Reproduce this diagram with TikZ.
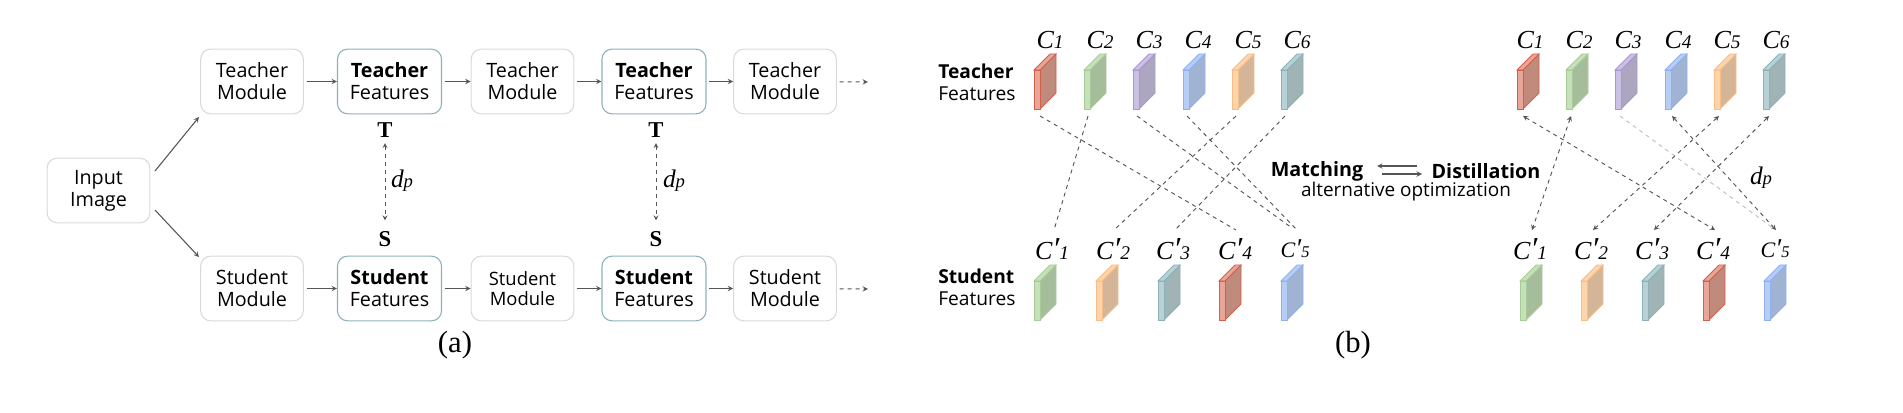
\documentclass[tikz,border=0pt]{standalone}
\usepackage{fontspec}
\setmainfont{Open Sans}
\newfontfamily\tms{Liberation Serif}
\usepackage{tikz}
\usetikzlibrary{positioning}

\definecolor{hongq}{HTML}{E9A597}\definecolor{hongb}{HTML}{D2604A}\definecolor{hongc}{HTML}{C08A7C}
\definecolor{lvq}{HTML}{C6E0B9}\definecolor{lvb}{HTML}{A8CC98}\definecolor{lvc}{HTML}{A6BD9B}
\definecolor{ziq}{HTML}{CAC1E4}\definecolor{zib}{HTML}{A797CE}\definecolor{zic}{HTML}{ACA6C0}
\definecolor{lanq}{HTML}{B6CDF6}\definecolor{lanb}{HTML}{8FB1EE}\definecolor{lanc}{HTML}{A1B3D3}
\definecolor{chengq}{HTML}{FDD5AB}\definecolor{chengb}{HTML}{F8BE8A}\definecolor{chengc}{HTML}{D4B598}
\definecolor{qingq}{HTML}{B7D2D6}\definecolor{qingb}{HTML}{8DB1B7}\definecolor{qingc}{HTML}{A0B3B5}
\definecolor{xianse}{HTML}{555555}

% one feature block: name, left, top, colour
\newcommand{\kuai}[4]{
\coordinate(#1)at(#2,#3);
\filldraw[draw=#4b,fill=#4c,line width=.6pt] (#2+6,#3) -- (#2+22,#3-16) -- (#2+22,#3+23) -- (#2+6,#3+39) -- cycle;
\filldraw[draw=#4b,fill=#4q,line width=.6pt] (#2,#3) -- (#2+16,#3-16) -- (#2+22,#3-16) -- (#2+6,#3) -- cycle;
\filldraw[draw=#4b,fill=#4q,line width=.6pt] (#2,#3) rectangle (#2+6,#3+39);
}
\newcommand{\cshang}[1]{{\tms\itshape\fontsize{19.5}{19.5}\selectfont C\fontsize{14.5}{14.5}\selectfont #1}}
\newcommand{\cxia}[1]{{\tms\itshape\fontsize{19.5}{19.5}\selectfont C\fontsize{24}{24}\selectfont ′\fontsize{14.5}{14.5}\selectfont #1}}
\newcommand{\cdp}{{\tms\itshape\fontsize{19}{19}\selectfont d\fontsize{14}{14}\selectfont p}}

\begin{document}
\begin{tikzpicture}[x=0.75pt,y=-0.75pt]
\tikzset{basic/.style={draw,rounded corners=7.5pt,align=center,inner sep=0pt,font=\fontsize{14.8}{16.5}\selectfont}}
\tikzset{mokuai/.style={basic,draw=black!15,line width=.8pt,minimum width=77pt,minimum height=48.5pt}}
\tikzset{tezheng/.style={basic,draw=qingb,line width=.8pt,minimum width=78pt,minimum height=48.5pt}}
\tikzset{biao/.style={anchor=base,inner sep=0pt}}
\tikzset{zi/.style={inner sep=0pt,font=\tms\bfseries\fontsize{17}{17}\selectfont}}
\tikzset{wen/.style={inner sep=0pt,align=left,font=\fontsize{14.4}{16.5}\selectfont}}
\tikzset{jian/.style={draw=xianse,line width=.8pt,->,>=stealth}}
\tikzset{heng/.style={jian,shorten <=2pt}}
\tikzset{xujian/.style={draw=xianse,line width=.7pt,dashed,<->,>=stealth}}
\tikzset{dui/.style={xujian,shorten <=4pt,shorten >=8pt}}
\tikzset{xu/.style={draw=xianse,line width=.7pt,dashed}}
\useasboundingbox (0,0) rectangle (1903,413);

\node[mokuai](in)at(98.5,190.5){Input\\Image};
\node[mokuai](tm1)at(252,81.5){Teacher\\Module};
\node[tezheng](tf1)at(389.5,81.5){\textbf{Teacher}\\Features};
\node[mokuai](tm2)at(522.5,81.5){Teacher\\Module};
\node[tezheng](tf2)at(654,81.5){\textbf{Teacher}\\Features};
\node[mokuai](tm3)at(785,81.5){Teacher\\Module};
\node[mokuai](sm1)at(252,288.5){Student\\Module};
\node[tezheng](sf1)at(389.5,288.5){\textbf{Student}\\Features};
\node[mokuai,font=\fontsize{13.8}{15.5}\selectfont](sm2)at(522.5,288.5){Student\\Module};
\node[tezheng](sf2)at(654,288.5){\textbf{Student}\\Features};
\node[mokuai](sm3)at(785,288.5){Student\\Module};

\node[zi](t1)at(385,130){T};
\node[zi](s1)at(385,239){S};
\node[zi](t2)at(656,130){T};
\node[zi](s2)at(656,239){S};
\node[inner sep=0pt](dp1)at(402,181){\cdp};
\node[inner sep=0pt](dp2)at(674,181){\cdp};
\node[inner sep=0pt,font=\tms\fontsize{23}{23}\selectfont](la)at(455,345){(a)};
\node[inner sep=0pt,font=\tms\fontsize{23}{23}\selectfont](lb)at(1353,345){(b)};

\coordinate(e1)at(868,82);
\coordinate(e2)at(868,289);
\coordinate(i1)at(155,171);\coordinate(i2)at(199,117);
\coordinate(i3)at(155,210);\coordinate(i4)at(199,257);

\path[jian] (i1) -- (i2);
\path[jian] (i3) -- (i4);
\path[heng] (tm1) -- (tf1);
\path[heng] (tf1) -- (tm2);
\path[heng] (tm2) -- (tf2);
\path[heng] (tf2) -- (tm3);
\path[heng] (sm1) -- (sf1);
\path[heng] (sf1) -- (sm2);
\path[heng] (sm2) -- (sf2);
\path[heng] (sf2) -- (sm3);
\path[heng,dashed] (tm3) -- (e1);
\path[heng,dashed] (sm3) -- (e2);
\path[dui] (t1) -- (s1);
\path[dui] (t2) -- (s2);

\node[wen,anchor=west](tt)at(938,82){\textbf{Teacher}\\Features};
\node[wen,anchor=west](st)at(938,287){\textbf{Student}\\Features};

\kuai{a1}{1034}{70}{hong}
\kuai{a2}{1084}{70}{lv}
\kuai{a3}{1133}{70}{zi}
\kuai{a4}{1183}{70}{lan}
\kuai{a5}{1232}{70}{cheng}
\kuai{a6}{1281}{70}{qing}
\kuai{b1}{1034}{281}{lv}
\kuai{b2}{1096}{281}{cheng}
\kuai{b3}{1158}{281}{qing}
\kuai{b4}{1219}{281}{hong}
\kuai{b5}{1281}{281}{lan}
\kuai{c1}{1517}{70}{hong}
\kuai{c2}{1566}{70}{lv}
\kuai{c3}{1615}{70}{zi}
\kuai{c4}{1665}{70}{lan}
\kuai{c5}{1714}{70}{cheng}
\kuai{c6}{1763}{70}{qing}
\kuai{d1}{1520}{281}{lv}
\kuai{d2}{1581}{281}{cheng}
\kuai{d3}{1642}{281}{qing}
\kuai{d4}{1703}{281}{hong}
\kuai{d5}{1764}{281}{lan}

\node[biao](la1)at(1050,49){\cshang{1}};
\node[biao](la2)at(1100,49){\cshang{2}};
\node[biao](la3)at(1149,49){\cshang{3}};
\node[biao](la4)at(1198,49){\cshang{4}};
\node[biao](la5)at(1248,49){\cshang{5}};
\node[biao](la6)at(1297,49){\cshang{6}};
\node[biao](lb1)at(1052,260){\cxia{1}};
\node[biao](lb2)at(1113,260){\cxia{2}};
\node[biao](lb3)at(1173,260){\cxia{3}};
\node[biao](lb4)at(1235,260){\cxia{4}};
\node[biao,scale=.85](lb5)at(1295,258){\cxia{5}};
\node[biao](lc1)at(1530,49){\cshang{1}};
\node[biao](lc2)at(1579,49){\cshang{2}};
\node[biao](lc3)at(1628,49){\cshang{3}};
\node[biao](lc4)at(1678,49){\cshang{4}};
\node[biao](lc5)at(1727,49){\cshang{5}};
\node[biao](lc6)at(1776,49){\cshang{6}};
\node[biao](ld1)at(1530,260){\cxia{1}};
\node[biao](ld2)at(1591,260){\cxia{2}};
\node[biao](ld3)at(1652,260){\cxia{3}};
\node[biao](ld4)at(1713,260){\cxia{4}};
\node[biao,scale=.85](ld5)at(1775,258){\cxia{5}};

\node[inner sep=0pt,font=\bfseries\fontsize{14.8}{14.8}\selectfont](mt)at(1317,171){Matching};
\node[inner sep=0pt,font=\bfseries\fontsize{14.8}{14.8}\selectfont](ds)at(1486,171){Distillation};
\node[inner sep=0pt,font=\fontsize{14.2}{14.2}\selectfont](ao)at(1406,192){alternative optimization};
\node[inner sep=0pt](dp3)at(1761,178){\cdp};

% free ends of the matching lines
\coordinate(p1)at(1040,116);\coordinate(q4)at(1236,230);
\coordinate(p2)at(1088,116);\coordinate(q1)at(1054,230);
\coordinate(p3)at(1137,116);\coordinate(q5)at(1292,228);
\coordinate(p4)at(1187,116);\coordinate(q6)at(1297,230);
\coordinate(p5)at(1236,116);\coordinate(q2)at(1114,230);
\coordinate(p6)at(1285,116);\coordinate(q3)at(1175,230);
\coordinate(r1)at(1523,116);\coordinate(u4)at(1715,230);
\coordinate(r2)at(1571,116);\coordinate(u1)at(1532,230);
\coordinate(r3)at(1620,116);\coordinate(u5)at(1773,228);
\coordinate(r4)at(1672,116);\coordinate(u6)at(1776,230);
\coordinate(r5)at(1719,116);\coordinate(u2)at(1593,230);
\coordinate(r6)at(1769,116);\coordinate(u3)at(1654,230);
\coordinate(m1)at(1417,166);\coordinate(m2)at(1377,166);
\coordinate(m3)at(1382,174);\coordinate(m4)at(1422,174);

\path[xu] (p1) -- (q4);
\path[xu] (p2) -- (q1);
\path[xu] (p3) -- (q5);
\path[xu] (p4) -- (q6);
\path[xu] (p5) -- (q2);
\path[xu] (p6) -- (q3);
\path[xujian] (r1) -- (u4);
\path[xujian] (r2) -- (u1);
\path[xu,draw=black!25] (r3) -- (u5);
\path[xujian] (r4) -- (u6);
\path[xujian] (r5) -- (u2);
\path[xujian] (r6) -- (u3);
\path[jian] (m1) -- (m2);
\path[jian] (m3) -- (m4);
\end{tikzpicture}
\end{document}
